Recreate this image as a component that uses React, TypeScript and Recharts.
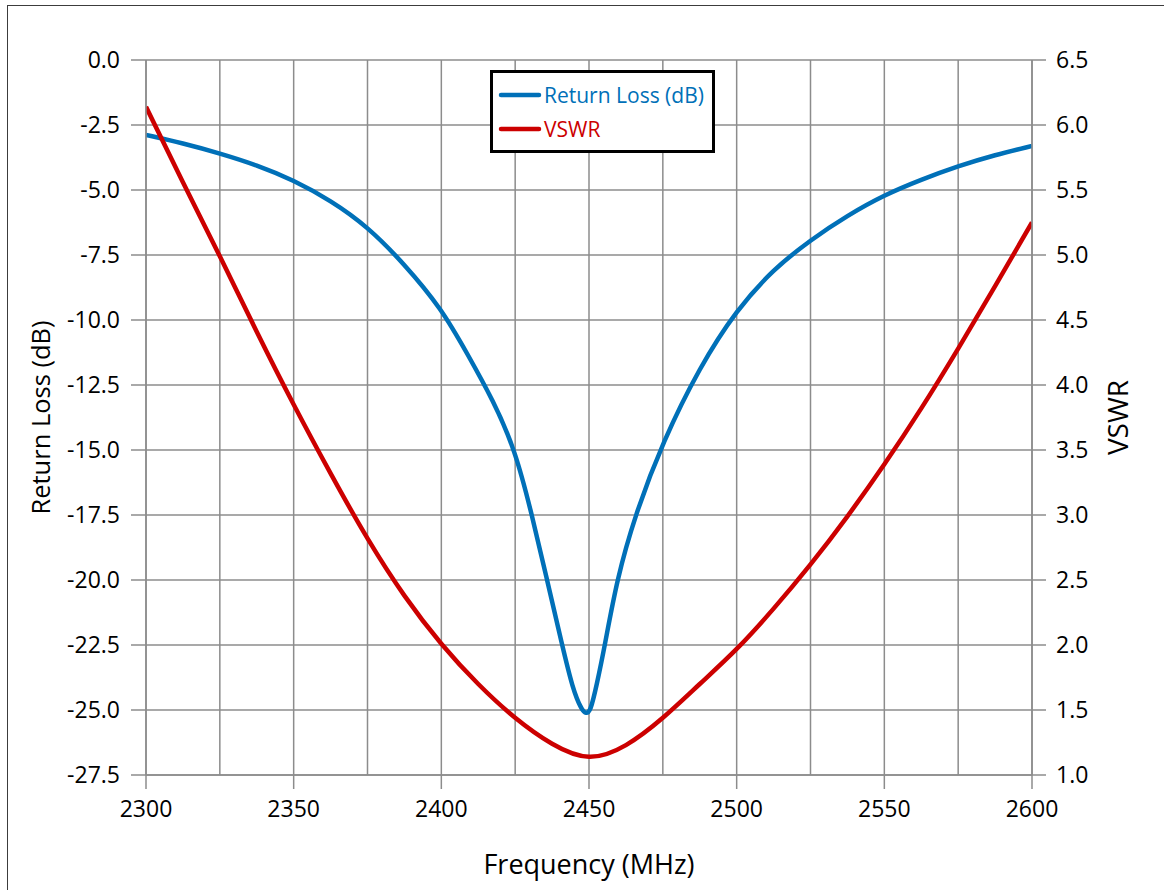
import React from 'react';
import { LineChart, Line, XAxis, YAxis, CartesianGrid, Legend, Label } from 'recharts';

// Axis ticks / grid
const freqTicks = [2300, 2350, 2400, 2450, 2500, 2550, 2600];
const freqGrid = [2300, 2325, 2350, 2375, 2400, 2425, 2450, 2475, 2500, 2525, 2550, 2575, 2600];
const rlTicks = [-27.5, -25, -22.5, -20, -17.5, -15, -12.5, -10, -7.5, -5, -2.5, 0];
const vswrTicks = [1, 1.5, 2, 2.5, 3, 3.5, 4, 4.5, 5, 5.5, 6, 6.5];

// Return loss (dB)
const rlFreq = [
  2300, 2312.5, 2325, 2337.5, 2350, 2362.5, 2375, 2387.5, 2400, 2408.8, 2417.6, 2425, 2430.7,
  2435.8, 2440.9, 2444.5, 2447.5, 2449, 2450.5, 2452.5, 2455.4, 2459.4, 2465.6, 2475, 2487.5,
  2500, 2512.5, 2525, 2537.5, 2550, 2562.5, 2575, 2587.5, 2600,
];
const rlValues = [
  -2.88, -3.2, -3.59, -4.04, -4.62, -5.4, -6.4, -7.85, -9.55, -11.3, -13.1, -15.0, -17.5,
  -20.0, -22.5, -24.2, -25.0, -25.15, -25.05, -24.1, -22.5, -20.0, -17.5, -14.68, -11.8,
  -9.6, -8.04, -6.92, -5.98, -5.19, -4.6, -4.08, -3.65, -3.31,
];

// VSWR
const vswrFreq = [
  2300, 2312.5, 2325, 2337.5, 2350, 2362.5, 2375, 2387.5, 2400, 2412.5, 2425, 2437.5, 2450,
  2462.5, 2475, 2487.5, 2500, 2512.5, 2525, 2537.5, 2550, 2562.5, 2575, 2587.5, 2600,
];
const vswrValues = [
  6.14, 5.56, 4.99, 4.41, 3.85, 3.32, 2.82, 2.38, 2.01, 1.7, 1.44, 1.24, 1.14,
  1.23, 1.44, 1.7, 1.97, 2.28, 2.62, 2.99, 3.39, 3.82, 4.28, 4.76, 5.25,
];

const BLUE = '#0070b8';
const RED = '#cc0000';
const GRID = '#8c8c8c';
const FONT = '"Open Sans", "Noto Sans", sans-serif';

const rlData = rlFreq.map((f, i) => ({ freq: f, rl: rlValues[i] }));
const vswrData = vswrFreq.map((f, i) => ({ freq: f, vswr: vswrValues[i] }));

function LeftTitle(props: any) {
  const vb = props.viewBox || { x: 0, y: 60, width: 146, height: 715 };
  const x = vb.x + 50;
  const y = vb.y + vb.height / 2;
  return (
    <text x={x} y={y} transform={`rotate(-90 ${x} ${y})`} textAnchor="middle" fontSize={25.5} fontFamily={FONT} fill="#000">
      Return Loss (dB)
    </text>
  );
}

function RightTitle(props: any) {
  const vb = props.viewBox || { x: 1032, y: 60, width: 132, height: 715 };
  const x = vb.x + 96;
  const y = vb.y + vb.height / 2;
  return (
    <text x={x} y={y} transform={`rotate(-90 ${x} ${y})`} textAnchor="middle" fontSize={28} fontFamily={FONT} fill="#000">
      VSWR
    </text>
  );
}

function BottomTitle(props: any) {
  const vb = props.viewBox || { x: 146, y: 775, width: 886, height: 115 };
  return (
    <text x={vb.x + vb.width / 2} y={vb.y + 99} textAnchor="middle" fontSize={27} fontFamily={FONT} fill="#000">
      Frequency (MHz)
    </text>
  );
}

function renderLegend(props: any) {
  const items = (props.payload || []).map((p: any) => ({ name: p.value, color: p.color }));
  return (
    <div
      style={{
        boxSizing: 'border-box',
        width: 225,
        height: 83,
        border: '3px solid #000',
        background: '#fff',
        position: 'relative',
        fontFamily: FONT,
      }}
    >
      {items.map((it: any, i: number) => (
        <div key={it.name} style={{ position: 'absolute', left: 5, top: 10 + i * 34, height: 24, display: 'flex', alignItems: 'center' }}>
          <svg width={44} height={10} style={{ display: 'block' }}>
            <line x1={3} y1={5} x2={41} y2={5} stroke={it.color} strokeWidth={4.5} strokeLinecap="round" />
          </svg>
          <span style={{ fontSize: 21, color: it.color, marginLeft: 2, lineHeight: '24px', whiteSpace: 'nowrap' }}>{it.name}</span>
        </div>
      ))}
    </div>
  );
}

export default function App() {
  return (
    <div style={{ position: 'absolute', left: 0, top: 0, width: 1164, height: 890, background: '#fff', overflow: 'hidden' }}>
      <div
        style={{
          position: 'absolute',
          left: 7,
          top: 5,
          width: 1200,
          height: 1000,
          border: '1.5px solid #3c3c3c',
        }}
      />
      <div style={{ position: 'absolute', left: 0, top: 0 }}>
        <LineChart width={1164} height={890} margin={{ top: 60, right: 0, bottom: 0, left: 0 }}>
          <CartesianGrid
            yAxisId="left"
            stroke={GRID}
            strokeWidth={1.5}
            verticalValues={freqGrid}
            horizontalValues={rlTicks}
          />
          <XAxis
            dataKey="freq"
            type="number"
            domain={[2300, 2600]}
            ticks={freqTicks}
            allowDataOverflow
            height={115}
            stroke={GRID}
            axisLine={{ stroke: GRID, strokeWidth: 1.5 }}
            tickLine={{ stroke: GRID, strokeWidth: 1.5 }}
            tickSize={14}
            tickMargin={12}
            tick={{ fill: '#000', fontSize: 23, fontFamily: FONT }}
          >
            <Label content={BottomTitle} />
          </XAxis>
          <YAxis
            yAxisId="left"
            domain={[-27.5, 0]}
            ticks={rlTicks}
            allowDataOverflow
            width={146}
            tickFormatter={(v: number) => v.toFixed(1)}
            axisLine={{ stroke: GRID, strokeWidth: 1.5 }}
            tickLine={{ stroke: GRID, strokeWidth: 1.5 }}
            tickSize={15}
            tickMargin={11}
            tick={{ fill: '#000', fontSize: 23, fontFamily: FONT }}
          >
            <Label content={LeftTitle} />
          </YAxis>
          <YAxis
            yAxisId="right"
            orientation="right"
            domain={[1, 6.5]}
            ticks={vswrTicks}
            allowDataOverflow
            width={132}
            tickFormatter={(v: number) => v.toFixed(1)}
            axisLine={{ stroke: GRID, strokeWidth: 1.5 }}
            tickLine={{ stroke: GRID, strokeWidth: 1.5 }}
            tickSize={14}
            tickMargin={10}
            tick={{ fill: '#000', fontSize: 23, fontFamily: FONT }}
          >
            <Label content={RightTitle} />
          </YAxis>
          <Legend
            layout="horizontal"
            verticalAlign="middle"
            align="center"
            content={renderLegend}
            wrapperStyle={{ left: 490, top: 70, width: 225, height: 83 }}
          />
          <Line
            yAxisId="left"
            data={rlData}
            dataKey="rl"
            name="Return Loss (dB)"
            type="basis"
            stroke={BLUE}
            strokeWidth={4.5}
            dot={false}
            activeDot={false}
            isAnimationActive={false}
          />
          <Line
            yAxisId="right"
            data={vswrData}
            dataKey="vswr"
            name="VSWR"
            type="natural"
            stroke={RED}
            strokeWidth={4.5}
            dot={false}
            activeDot={false}
            isAnimationActive={false}
          />
        </LineChart>
      </div>
    </div>
  );
}
